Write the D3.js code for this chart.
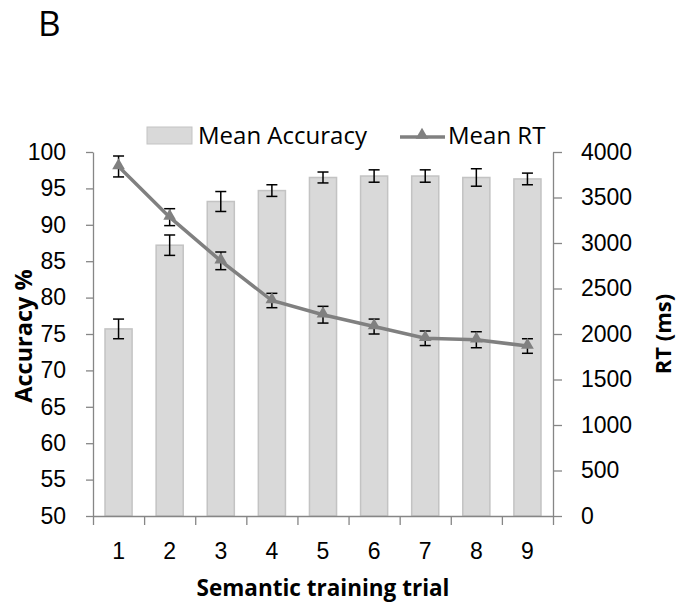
<!DOCTYPE html>
<html>
<head>
<meta charset="utf-8">
<script src="https://cdn.jsdelivr.net/npm/d3@7"></script>
<style>
  body { margin: 0; background: #fff; }
  svg { display: block; font-family: "Open Sans", sans-serif; }
  .axis path, .axis line { stroke: #868686; stroke-width: 1.3; }
  .axis text { fill: #000; font-size: 23px; }
</style>
</head>
<body>
<script>
// semantic training data
const trials = [1, 2, 3, 4, 5, 6, 7, 8, 9];
const accuracy = [75.7, 87.2, 93.2, 94.7, 96.5, 96.7, 96.7, 96.5, 96.3];
const accuracyErr = [1.35, 1.4, 1.37, 0.8, 0.75, 0.85, 0.85, 1.2, 0.8];
const meanRT = [3841, 3284, 2804, 2368, 2212, 2082, 1953, 1937, 1868];
const rtErr = [115, 93, 97, 79, 92, 82, 80, 88, 80];
const accTicks = [50, 55, 60, 65, 70, 75, 80, 85, 90, 95, 100];
const rtTicks = [0, 500, 1000, 1500, 2000, 2500, 3000, 3500, 4000];

let width = 688, height = 608;
let plot = {left: 93, right: 553, top: 152, bottom: 516};

let svg = d3.select("body").append("svg")
	.attr("width", width)
	.attr("height", height);

let xScale = d3.scaleBand()
	.domain(trials)
	.range([plot.left, plot.right])
	.paddingInner(0.47)
	.paddingOuter(0.235);

// category boundaries for the tick marks (excel style)
let xEdge = d3.scaleLinear().domain([0, trials.length]).range([plot.left, plot.right]);

let acc_yScale = d3.scaleLinear().domain([50, 100]).range([plot.bottom, plot.top]);
let rt_yScale = d3.scaleLinear().domain([0, 4000]).range([plot.bottom, plot.top]);

let cx = function(d, i) { return xScale(trials[i]) + xScale.bandwidth() / 2; };

// panel letter
svg.append("text")
	.attr("x", 38)
	.attr("y", 36)
	.style("font-size", "35px")
	.text("B");

// bars
svg.selectAll(".acc_bar")
		.data(accuracy)
	.enter().append("rect")
		.attr("class", "acc_bar")
		.attr("x", function(d, i) { return xScale(trials[i]); })
		.attr("y", function(d) { return acc_yScale(d); })
		.attr("width", xScale.bandwidth())
		.attr("height", function(d) { return plot.bottom - acc_yScale(d); })
		.attr("fill", "#d9d9d9")
		.attr("stroke", "#c3c3c3")
		.attr("stroke-width", 1.5);

// error bars helper
function errorBars(cls, values, errs, yScale) {
	let g = svg.append("g").attr("class", cls)
		.attr("stroke", "#000").attr("stroke-width", 1.5);
	values.forEach(function(v, i) {
		let x = cx(v, i), y0 = yScale(v - errs[i]), y1 = yScale(v + errs[i]);
		g.append("line").attr("x1", x).attr("x2", x).attr("y1", y0).attr("y2", y1);
		g.append("line").attr("x1", x - 5.5).attr("x2", x + 5.5).attr("y1", y0).attr("y2", y0);
		g.append("line").attr("x1", x - 5.5).attr("x2", x + 5.5).attr("y1", y1).attr("y2", y1);
	});
}

errorBars("acc_err", accuracy, accuracyErr, acc_yScale);
errorBars("rt_err", meanRT, rtErr, rt_yScale);

// RT line
let rt_line = d3.line()
	.x(cx)
	.y(function(d) { return rt_yScale(d); });

svg.append("path")
	.datum(meanRT)
	.attr("fill", "none")
	.attr("stroke", "#808080")
	.attr("stroke-width", 3.5)
	.attr("d", rt_line);

let triangle = d3.symbol().type(d3.symbolTriangle).size(70);

svg.selectAll(".rt_point")
		.data(meanRT)
	.enter().append("path")
		.attr("class", "rt_point")
		.attr("d", triangle)
		.attr("fill", "#808080")
		.attr("transform", function(d, i) { return "translate(" + cx(d, i) + "," + (rt_yScale(d) - 1) + ")"; });

// left axis
svg.append("g")
	.attr("class", "axis")
	.attr("transform", "translate(" + plot.left + ",0)")
	.call(d3.axisLeft(acc_yScale).tickValues(accTicks).tickSize(7).tickSizeOuter(0).tickPadding(20));

// right axis
svg.append("g")
	.attr("class", "axis")
	.attr("transform", "translate(" + plot.right + ",0)")
	.call(d3.axisRight(rt_yScale).tickValues(rtTicks).tickSize(9).tickSizeOuter(0)
		.tickPadding(19).tickFormat(d3.format("d")));

// x axis, ticks between categories
svg.append("g")
	.attr("class", "axis")
	.attr("transform", "translate(0," + plot.bottom + ")")
	.call(d3.axisBottom(xEdge).ticks(trials.length).tickSize(9).tickSizeOuter(0).tickFormat(""));

svg.append("g")
	.attr("class", "axis")
	.attr("transform", "translate(0," + plot.bottom + ")")
	.call(d3.axisBottom(xScale).tickSize(0).tickPadding(27))
	.call(function(g) { g.select(".domain").remove(); });

// axis titles
svg.append("text")
	.attr("x", (plot.left + plot.right) / 2)
	.attr("y", 596)
	.attr("text-anchor", "middle")
	.style("font-size", "22.5px")
	.style("font-weight", "bold")
	.text("Semantic training trial");

svg.append("text")
	.attr("transform", "translate(32," + ((plot.top + plot.bottom) / 2 + 2) + ") rotate(-90)")
	.attr("text-anchor", "middle")
	.style("font-size", "23.5px")
	.style("font-weight", "bold")
	.text("Accuracy %");

svg.append("text")
	.attr("transform", "translate(671," + (plot.top + plot.bottom) / 2 + ") rotate(-90)")
	.attr("text-anchor", "middle")
	.style("font-size", "22px")
	.style("font-weight", "bold")
	.text("RT (ms)");

// legend
let legend = svg.append("g").attr("class", "legend");

legend.append("rect")
	.attr("x", 147).attr("y", 127)
	.attr("width", 45).attr("height", 17)
	.attr("fill", "#d9d9d9")
	.attr("stroke", "#c3c3c3");

legend.append("text")
	.attr("x", 198).attr("y", 144)
	.style("font-size", "24px")
	.text("Mean Accuracy");

legend.append("line")
	.attr("x1", 400).attr("x2", 445)
	.attr("y1", 137).attr("y2", 137)
	.attr("stroke", "#808080")
	.attr("stroke-width", 3.5);

legend.append("path")
	.attr("d", triangle)
	.attr("fill", "#808080")
	.attr("transform", "translate(422,135)");

legend.append("text")
	.attr("x", 448).attr("y", 144)
	.style("font-size", "24px")
	.text("Mean RT");
</script>
</body>
</html>
